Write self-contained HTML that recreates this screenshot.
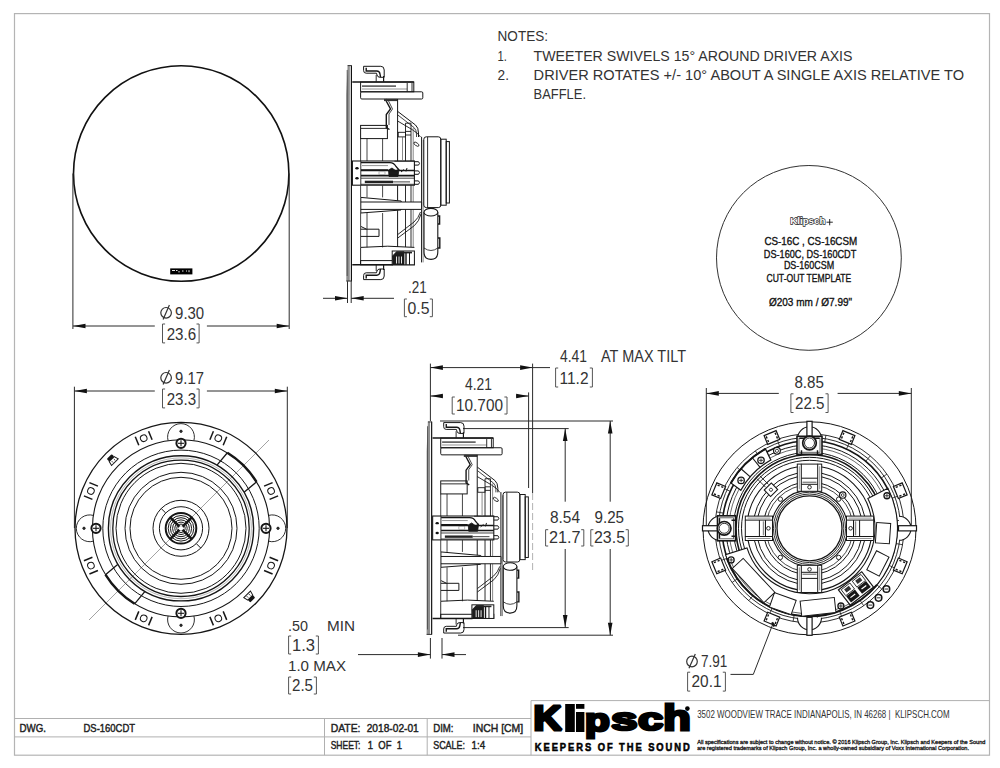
<!DOCTYPE html>
<html><head><meta charset="utf-8"><style>
html,body{margin:0;padding:0;background:#fff;width:1000px;height:768px;overflow:hidden}
svg{display:block}
</style></head><body>
<svg width="1000" height="768" viewBox="0 0 1000 768">
<rect width="1000" height="768" fill="#fff"/>
<rect x="14.5" y="13.6" width="975" height="741.6" fill="none" stroke="#b4b4b4" stroke-width="1.2"/>
<line x1="14.50" y1="718.50" x2="531.00" y2="718.50" stroke="#b0b0b0" stroke-width="1" />
<line x1="14.50" y1="736.90" x2="531.00" y2="736.90" stroke="#b0b0b0" stroke-width="1" />
<line x1="324.50" y1="718.50" x2="324.50" y2="755.20" stroke="#b0b0b0" stroke-width="1" />
<line x1="427.20" y1="718.50" x2="427.20" y2="755.20" stroke="#b0b0b0" stroke-width="1" />
<line x1="531.00" y1="700.60" x2="531.00" y2="755.20" stroke="#b0b0b0" stroke-width="1" />
<line x1="531.00" y1="700.60" x2="989.50" y2="700.60" stroke="#b0b0b0" stroke-width="1" />
<text x="19.5" y="732.2" textLength="26.5" lengthAdjust="spacingAndGlyphs" font-family="Liberation Sans" font-size="11.5" font-weight="normal" fill="#222" stroke="#222" stroke-width="0.45">DWG.</text>
<text x="83.5" y="732.2" textLength="51.5" lengthAdjust="spacingAndGlyphs" font-family="Liberation Sans" font-size="11.5" font-weight="normal" fill="#222" stroke="#222" stroke-width="0.45">DS-160CDT</text>
<text x="330.7" y="732.4" textLength="29.8" lengthAdjust="spacingAndGlyphs" font-family="Liberation Sans" font-size="11.5" font-weight="normal" fill="#222" stroke="#222" stroke-width="0.45">DATE:</text>
<text x="366.7" y="732.4" textLength="52.1" lengthAdjust="spacingAndGlyphs" font-family="Liberation Sans" font-size="11.5" font-weight="normal" fill="#222" stroke="#222" stroke-width="0.45">2018-02-01</text>
<text x="433.2" y="732.4" textLength="20.3" lengthAdjust="spacingAndGlyphs" font-family="Liberation Sans" font-size="11.5" font-weight="normal" fill="#222" stroke="#222" stroke-width="0.45">DIM:</text>
<text x="472.8" y="732.4" textLength="50.4" lengthAdjust="spacingAndGlyphs" font-family="Liberation Sans" font-size="11.5" font-weight="normal" fill="#222" stroke="#222" stroke-width="0.45">INCH [CM]</text>
<text x="330.7" y="749.2" textLength="29.8" lengthAdjust="spacingAndGlyphs" font-family="Liberation Sans" font-size="11.5" font-weight="normal" fill="#222" stroke="#222" stroke-width="0.45">SHEET:</text>
<text x="367.7" y="749.2" textLength="34.3" lengthAdjust="spacingAndGlyphs" font-family="Liberation Sans" font-size="11.5" font-weight="normal" fill="#222" stroke="#222" stroke-width="0.45">1 &#160;OF &#160;1</text>
<text x="433.2" y="749.2" textLength="31.8" lengthAdjust="spacingAndGlyphs" font-family="Liberation Sans" font-size="11.5" font-weight="normal" fill="#222" stroke="#222" stroke-width="0.45">SCALE:</text>
<text x="471.6" y="749.2" textLength="13.7" lengthAdjust="spacingAndGlyphs" font-family="Liberation Sans" font-size="11.5" font-weight="normal" fill="#222" stroke="#222" stroke-width="0.45">1:4</text>
<text transform="translate(533.48,730.40) scale(0.3916,0.3532)" x="0" y="0" font-family="Liberation Sans" font-size="100" font-weight="bold" fill="#000" stroke="#000" stroke-width="8.59" stroke-linejoin="miter" stroke-miterlimit="1.5">K</text>
<text transform="translate(584.93,730.93) scale(0.4048,0.3213)" x="0" y="0" font-family="Liberation Sans" font-size="100" font-weight="bold" fill="#000" stroke="#000" stroke-width="8.81" stroke-linejoin="miter" stroke-miterlimit="1.5">p</text>
<text transform="translate(611.12,730.49) scale(0.4771,0.3210)" x="0" y="0" font-family="Liberation Sans" font-size="100" font-weight="bold" fill="#000" stroke="#000" stroke-width="8.02" stroke-linejoin="miter" stroke-miterlimit="1.5">s</text>
<text transform="translate(638.11,730.49) scale(0.4572,0.3213)" x="0" y="0" font-family="Liberation Sans" font-size="100" font-weight="bold" fill="#000" stroke="#000" stroke-width="8.22" stroke-linejoin="miter" stroke-miterlimit="1.5">c</text>
<text transform="translate(663.35,730.40) scale(0.4509,0.3423)" x="0" y="0" font-family="Liberation Sans" font-size="100" font-weight="bold" fill="#000" stroke="#000" stroke-width="8.07" stroke-linejoin="miter" stroke-miterlimit="1.5">h</text>
<rect x="565.2" y="704" width="9.6" height="28" fill="#000"/>
<rect x="576" y="704" width="8.4" height="4.8" fill="#000"/>
<rect x="576" y="712" width="8.4" height="20" fill="#000"/>
<circle cx="687.4" cy="708.6" r="2.3" fill="#000"/>
<g transform="translate(534.8,750.8) scale(0.86,1)"><text x="0" y="0" textLength="180.2" lengthAdjust="spacing" font-family="Liberation Sans" font-size="10.9" font-weight="bold" fill="#000" stroke="#000" stroke-width="0.55">KEEPERS OF THE SOUND</text></g>
<text x="697.2" y="717.9" textLength="252.4" lengthAdjust="spacingAndGlyphs" font-family="Liberation Sans" font-size="11" font-weight="normal" fill="#333">3502 WOODVIEW TRACE INDIANAPOLIS, IN 46268 | &#160;KLIPSCH.COM</text>
<text x="697.2" y="743.8" textLength="288.2" lengthAdjust="spacingAndGlyphs" font-family="Liberation Sans" font-size="5.8" font-weight="normal" fill="#111" stroke="#111" stroke-width="0.3">All specifications are subject to change without notice. &#169; 2016 Klipsch Group, Inc. Klipsch and Keepers of the Sound</text>
<text x="697.2" y="750.0" textLength="271.8" lengthAdjust="spacingAndGlyphs" font-family="Liberation Sans" font-size="5.8" font-weight="normal" fill="#111" stroke="#111" stroke-width="0.3">are registered trademarks of Klipsch Group, Inc. a wholly-owned subsidiary of Voxx International Corporation.</text>
<text x="497.6" y="41.4" textLength="50.4" lengthAdjust="spacingAndGlyphs" font-family="Liberation Sans" font-size="15.5" font-weight="normal" fill="#333333">NOTES:</text>
<text x="497.6" y="61.0" textLength="9.4" lengthAdjust="spacingAndGlyphs" font-family="Liberation Sans" font-size="15.5" font-weight="normal" fill="#333333">1.</text>
<text x="533.6" y="61.0" textLength="318.9" lengthAdjust="spacingAndGlyphs" font-family="Liberation Sans" font-size="15.5" font-weight="normal" fill="#333333">TWEETER SWIVELS 15&#176; AROUND DRIVER AXIS</text>
<text x="497.6" y="80.0" textLength="11.4" lengthAdjust="spacingAndGlyphs" font-family="Liberation Sans" font-size="15.5" font-weight="normal" fill="#333333">2.</text>
<text x="533.6" y="80.0" textLength="430.4" lengthAdjust="spacingAndGlyphs" font-family="Liberation Sans" font-size="15.5" font-weight="normal" fill="#333333">DRIVER ROTATES +/- 10&#176; ABOUT A SINGLE AXIS RELATIVE TO</text>
<text x="533.6" y="98.6" textLength="52.4" lengthAdjust="spacingAndGlyphs" font-family="Liberation Sans" font-size="15.5" font-weight="normal" fill="#333333">BAFFLE.</text>
<circle cx="808.9" cy="257.9" r="92.4" fill="none" stroke="#333" stroke-width="1"/>
<text x="790.2" y="224.2" textLength="35.2" lengthAdjust="spacingAndGlyphs" font-family="Liberation Sans" font-size="9.8" font-weight="bold" fill="#fff" stroke="#2a2a2a" stroke-width="1.3" paint-order="stroke">Klipsch</text>
<path d="M826.5,222.2 H832.8 M829.7,219 V225.3" stroke="#111" stroke-width="0.9"/>
<text x="764.4" y="244.8" textLength="92.8" lengthAdjust="spacingAndGlyphs" font-family="Liberation Sans" font-size="11.2" font-weight="normal" fill="#111" stroke="#111" stroke-width="0.35">CS-16C , CS-16CSM</text>
<text x="763.8" y="258.3" textLength="92.5" lengthAdjust="spacingAndGlyphs" font-family="Liberation Sans" font-size="11.2" font-weight="normal" fill="#111" stroke="#111" stroke-width="0.35">DS-160C, DS-160CDT</text>
<text x="783.9" y="269.4" textLength="50.3" lengthAdjust="spacingAndGlyphs" font-family="Liberation Sans" font-size="11.2" font-weight="normal" fill="#111" stroke="#111" stroke-width="0.35">DS-160CSM</text>
<text x="766.5" y="282.3" textLength="84.7" lengthAdjust="spacingAndGlyphs" font-family="Liberation Sans" font-size="11.2" font-weight="normal" fill="#111" stroke="#111" stroke-width="0.35">CUT-OUT TEMPLATE</text>
<text x="768.9" y="306.2" textLength="83.2" lengthAdjust="spacingAndGlyphs" font-family="Liberation Sans" font-size="11.2" font-weight="normal" fill="#111" stroke="#111" stroke-width="0.35">&#216;203 mm / &#216;7.99"</text>
<circle cx="181.2" cy="173.5" r="107.7" fill="none" stroke="#111" stroke-width="1.6"/>
<rect x="170.2" y="268.4" width="22.2" height="6" fill="#000"/>
<path d="M172,270.5 h3 M176,270.5 h1.5 M179,271 v1.5 M182,271 h1.5 M186,271 h1 M189,270.2 v2" stroke="#fff" stroke-width="0.9"/>
<line x1="72.90" y1="173.50" x2="72.90" y2="329.00" stroke="#2b2b2b" stroke-width="1" />
<line x1="289.20" y1="173.50" x2="289.20" y2="329.00" stroke="#2b2b2b" stroke-width="1" />
<line x1="73.00" y1="326.00" x2="154.80" y2="326.00" stroke="#2b2b2b" stroke-width="1" />
<line x1="206.90" y1="326.00" x2="289.00" y2="326.00" stroke="#2b2b2b" stroke-width="1" />
<path d="M73.00,326.00 L85.50,323.70 L85.50,328.30 Z" fill="#111"/>
<path d="M289.20,326.00 L276.70,328.30 L276.70,323.70 Z" fill="#111"/>
<circle cx="166.1" cy="312.8" r="5.3" fill="none" stroke="#333333" stroke-width="1.2"/>
<line x1="163.1" y1="319.6" x2="169.4" y2="305.1" stroke="#333333" stroke-width="1.2"/>
<text x="175.1" y="318.6" textLength="29.1" lengthAdjust="spacingAndGlyphs" font-family="Liberation Sans" font-size="16.5" font-weight="normal" fill="#333333">9.30</text>
<path d="M165.1,324.0 H162.5 V342.9 H165.1 M196.5,324.0 H199.1 V342.9 H196.5" fill="none" stroke="#555" stroke-width="1"/>
<text x="166.7" y="339.9" textLength="29.4" lengthAdjust="spacingAndGlyphs" font-family="Liberation Sans" font-size="16" font-weight="normal" fill="#333333">23.6</text>
<line x1="74.40" y1="386.70" x2="74.40" y2="528.00" stroke="#2b2b2b" stroke-width="1" />
<line x1="287.30" y1="386.70" x2="287.30" y2="528.00" stroke="#2b2b2b" stroke-width="1" />
<line x1="74.40" y1="391.00" x2="154.80" y2="391.00" stroke="#2b2b2b" stroke-width="1" />
<line x1="206.90" y1="391.00" x2="287.30" y2="391.00" stroke="#2b2b2b" stroke-width="1" />
<path d="M74.40,391.00 L86.90,388.70 L86.90,393.30 Z" fill="#111"/>
<path d="M287.30,391.00 L274.80,393.30 L274.80,388.70 Z" fill="#111"/>
<circle cx="166.1" cy="377.8" r="5.3" fill="none" stroke="#333333" stroke-width="1.2"/>
<line x1="163.1" y1="384.6" x2="169.4" y2="370.1" stroke="#333333" stroke-width="1.2"/>
<text x="175.1" y="383.6" textLength="28.9" lengthAdjust="spacingAndGlyphs" font-family="Liberation Sans" font-size="16.5" font-weight="normal" fill="#333333">9.17</text>
<path d="M165.1,389.0 H162.5 V407.9 H165.1 M196.5,389.0 H199.1 V407.9 H196.5" fill="none" stroke="#555" stroke-width="1"/>
<text x="166.7" y="404.9" textLength="29.4" lengthAdjust="spacingAndGlyphs" font-family="Liberation Sans" font-size="16" font-weight="normal" fill="#333333">23.3</text>
<line x1="347.50" y1="281.00" x2="347.50" y2="303.00" stroke="#2b2b2b" stroke-width="1" />
<line x1="351.20" y1="281.00" x2="351.20" y2="303.00" stroke="#2b2b2b" stroke-width="1" />
<line x1="323.00" y1="298.30" x2="347.50" y2="298.30" stroke="#2b2b2b" stroke-width="1" />
<path d="M347.50,298.30 L335.00,300.60 L335.00,296.00 Z" fill="#111"/>
<line x1="351.20" y1="298.30" x2="394.00" y2="298.30" stroke="#2b2b2b" stroke-width="1" />
<path d="M351.20,298.30 L363.70,296.00 L363.70,300.60 Z" fill="#111"/>
<text x="408.0" y="292.7" textLength="18.7" lengthAdjust="spacingAndGlyphs" font-family="Liberation Sans" font-size="16" font-weight="normal" fill="#333333">.21</text>
<path d="M406.9,299.0 H404.4 V316.7 H406.9 M429.8,299.0 H432.4 V316.7 H429.8" fill="none" stroke="#555" stroke-width="1"/>
<text x="407.5" y="313.5" textLength="22.0" lengthAdjust="spacingAndGlyphs" font-family="Liberation Sans" font-size="16" font-weight="normal" fill="#333333">0.5</text>
<line x1="430.40" y1="363.60" x2="430.40" y2="421.00" stroke="#2b2b2b" stroke-width="1" />
<line x1="532.60" y1="363.60" x2="532.60" y2="493.00" stroke="#2b2b2b" stroke-width="1" />
<line x1="532.60" y1="493.00" x2="532.60" y2="570.00" stroke="#aaa" stroke-width="0.9" stroke-dasharray="7,3"/>
<line x1="430.40" y1="367.60" x2="550.00" y2="367.60" stroke="#2b2b2b" stroke-width="1" />
<path d="M430.40,367.60 L442.90,365.30 L442.90,369.90 Z" fill="#111"/>
<path d="M532.60,367.60 L520.10,369.90 L520.10,365.30 Z" fill="#111"/>
<text x="560.0" y="362.0" textLength="27.0" lengthAdjust="spacingAndGlyphs" font-family="Liberation Sans" font-size="16" font-weight="normal" fill="#333333">4.41</text>
<text x="601.0" y="362.0" textLength="85.0" lengthAdjust="spacingAndGlyphs" font-family="Liberation Sans" font-size="16" font-weight="normal" fill="#333333">AT MAX TILT</text>
<path d="M558.2,368.0 H555.6 V387.0 H558.2 M589.8,368.0 H592.4 V387.0 H589.8" fill="none" stroke="#555" stroke-width="1"/>
<text x="559.5" y="384.0" textLength="29.0" lengthAdjust="spacingAndGlyphs" font-family="Liberation Sans" font-size="16" font-weight="normal" fill="#333333">11.2</text>
<line x1="528.60" y1="392.40" x2="528.60" y2="488.00" stroke="#2b2b2b" stroke-width="1" />
<line x1="430.40" y1="396.00" x2="443.00" y2="396.00" stroke="#2b2b2b" stroke-width="1" />
<path d="M430.40,396.00 L442.90,393.70 L442.90,398.30 Z" fill="#111"/>
<line x1="516.00" y1="396.00" x2="528.60" y2="396.00" stroke="#2b2b2b" stroke-width="1" />
<path d="M528.60,396.00 L516.10,398.30 L516.10,393.70 Z" fill="#111"/>
<text x="465.0" y="390.4" textLength="27.0" lengthAdjust="spacingAndGlyphs" font-family="Liberation Sans" font-size="16" font-weight="normal" fill="#333333">4.21</text>
<path d="M454.8,397.0 H452.2 V414.0 H454.8 M504.4,397.0 H507.0 V414.0 H504.4" fill="none" stroke="#555" stroke-width="1"/>
<text x="456.0" y="411.0" textLength="47.0" lengthAdjust="spacingAndGlyphs" font-family="Liberation Sans" font-size="16" font-weight="normal" fill="#333333">10.700</text>
<line x1="440.00" y1="421.00" x2="613.00" y2="421.00" stroke="#2b2b2b" stroke-width="1" />
<line x1="463.00" y1="428.60" x2="568.70" y2="428.60" stroke="#2b2b2b" stroke-width="1" />
<line x1="463.00" y1="627.60" x2="568.70" y2="627.60" stroke="#2b2b2b" stroke-width="1" />
<line x1="458.00" y1="635.20" x2="613.00" y2="635.20" stroke="#2b2b2b" stroke-width="1" />
<line x1="565.20" y1="428.60" x2="565.20" y2="501.70" stroke="#2b2b2b" stroke-width="1" />
<line x1="565.20" y1="549.00" x2="565.20" y2="627.60" stroke="#2b2b2b" stroke-width="1" />
<path d="M565.20,428.60 L567.50,441.10 L562.90,441.10 Z" fill="#111"/>
<path d="M565.20,627.60 L562.90,615.10 L567.50,615.10 Z" fill="#111"/>
<line x1="610.20" y1="421.00" x2="610.20" y2="501.70" stroke="#2b2b2b" stroke-width="1" />
<line x1="610.20" y1="549.00" x2="610.20" y2="635.20" stroke="#2b2b2b" stroke-width="1" />
<path d="M610.20,421.00 L612.50,433.50 L607.90,433.50 Z" fill="#111"/>
<path d="M610.20,635.20 L607.90,622.70 L612.50,622.70 Z" fill="#111"/>
<text x="550.0" y="522.6" textLength="30.0" lengthAdjust="spacingAndGlyphs" font-family="Liberation Sans" font-size="16" font-weight="normal" fill="#333333">8.54</text>
<path d="M548.2,529.7 H545.6 V546.0 H548.2 M581.2,529.7 H583.8 V546.0 H581.2" fill="none" stroke="#555" stroke-width="1"/>
<text x="549.0" y="543.0" textLength="31.5" lengthAdjust="spacingAndGlyphs" font-family="Liberation Sans" font-size="16" font-weight="normal" fill="#333333">21.7</text>
<text x="594.5" y="522.6" textLength="29.5" lengthAdjust="spacingAndGlyphs" font-family="Liberation Sans" font-size="16" font-weight="normal" fill="#333333">9.25</text>
<path d="M593.4,529.7 H590.8 V546.0 H593.4 M625.7,529.7 H628.3 V546.0 H625.7" fill="none" stroke="#555" stroke-width="1"/>
<text x="594.0" y="543.0" textLength="31.0" lengthAdjust="spacingAndGlyphs" font-family="Liberation Sans" font-size="16" font-weight="normal" fill="#333333">23.5</text>
<line x1="430.40" y1="638.00" x2="430.40" y2="658.60" stroke="#2b2b2b" stroke-width="1" />
<line x1="442.00" y1="638.00" x2="442.00" y2="658.60" stroke="#2b2b2b" stroke-width="1" />
<line x1="358.00" y1="654.60" x2="430.40" y2="654.60" stroke="#2b2b2b" stroke-width="1" />
<path d="M430.40,654.60 L417.90,656.90 L417.90,652.30 Z" fill="#111"/>
<line x1="442.00" y1="654.60" x2="466.00" y2="654.60" stroke="#2b2b2b" stroke-width="1" />
<path d="M442.00,654.60 L454.50,652.30 L454.50,656.90 Z" fill="#111"/>
<text x="288.0" y="630.6" textLength="20.0" lengthAdjust="spacingAndGlyphs" font-family="Liberation Sans" font-size="15.5" font-weight="normal" fill="#333333">.50</text>
<text x="327.0" y="630.6" textLength="28.0" lengthAdjust="spacingAndGlyphs" font-family="Liberation Sans" font-size="15.5" font-weight="normal" fill="#333333">MIN</text>
<path d="M291.2,636.0 H288.6 V654.0 H291.2 M315.8,636.0 H318.4 V654.0 H315.8" fill="none" stroke="#555" stroke-width="1"/>
<text x="292.0" y="650.6" textLength="23.0" lengthAdjust="spacingAndGlyphs" font-family="Liberation Sans" font-size="16" font-weight="normal" fill="#333333">1.3</text>
<text x="288.0" y="671.4" textLength="58.0" lengthAdjust="spacingAndGlyphs" font-family="Liberation Sans" font-size="15.5" font-weight="normal" fill="#333333">1.0 MAX</text>
<path d="M291.2,677.0 H288.6 V694.0 H291.2 M313.8,677.0 H316.4 V694.0 H313.8" fill="none" stroke="#555" stroke-width="1"/>
<text x="292.0" y="691.0" textLength="21.0" lengthAdjust="spacingAndGlyphs" font-family="Liberation Sans" font-size="16" font-weight="normal" fill="#333333">2.5</text>
<line x1="706.30" y1="388.00" x2="706.30" y2="528.00" stroke="#2b2b2b" stroke-width="1" />
<line x1="911.30" y1="388.00" x2="911.30" y2="528.00" stroke="#2b2b2b" stroke-width="1" />
<line x1="706.30" y1="393.40" x2="778.80" y2="393.40" stroke="#2b2b2b" stroke-width="1" />
<line x1="837.60" y1="393.40" x2="911.30" y2="393.40" stroke="#2b2b2b" stroke-width="1" />
<path d="M706.30,393.40 L718.80,391.10 L718.80,395.70 Z" fill="#111"/>
<path d="M911.30,393.40 L898.80,395.70 L898.80,391.10 Z" fill="#111"/>
<text x="794.4" y="387.9" textLength="29.5" lengthAdjust="spacingAndGlyphs" font-family="Liberation Sans" font-size="16" font-weight="normal" fill="#333333">8.85</text>
<path d="M793.5,393.8 H790.9 V412.5 H793.5 M825.5,393.8 H828.1 V412.5 H825.5" fill="none" stroke="#555" stroke-width="1"/>
<text x="795.0" y="409.0" textLength="29.5" lengthAdjust="spacingAndGlyphs" font-family="Liberation Sans" font-size="16" font-weight="normal" fill="#333333">22.5</text>
<circle cx="692.0" cy="661.5" r="5.3" fill="none" stroke="#333333" stroke-width="1.2"/>
<line x1="689.0" y1="668.3" x2="695.3" y2="653.9" stroke="#333333" stroke-width="1.2"/>
<text x="701.0" y="666.6" textLength="26.3" lengthAdjust="spacingAndGlyphs" font-family="Liberation Sans" font-size="16" font-weight="normal" fill="#333333">7.91</text>
<path d="M690.2,672.2 H687.6 V691.1 H690.2 M722.8,672.2 H725.4 V691.1 H722.8" fill="none" stroke="#555" stroke-width="1"/>
<text x="691.5" y="687.0" textLength="30.0" lengthAdjust="spacingAndGlyphs" font-family="Liberation Sans" font-size="16" font-weight="normal" fill="#333333">20.1</text>
<path d="M730.5,674.4 H753.3 L772.8,624.1" fill="none" stroke="#2b2b2b" stroke-width="1"/>
<g id="side">
<path d="M347.6,65.5 H349.8 V281.2 H346.3 V95 Z" fill="#8e8e8e" stroke="none" stroke-width="0" />
<line x1="351.40" y1="65.50" x2="351.40" y2="281.20" stroke="#111" stroke-width="1.2"/>
<line x1="347.60" y1="65.60" x2="351.80" y2="65.60" stroke="#333" stroke-width="1.0"/>
<line x1="346.30" y1="281.00" x2="351.80" y2="281.00" stroke="#333" stroke-width="1.0"/>
<line x1="347.20" y1="70.00" x2="347.20" y2="276.00" stroke="#444" stroke-width="0.8"/>
<path d="M363.6,66.3 H380.8 Q384.2,66.3 384.2,70 V77.3 H380 Q377.5,77.3 377,75 L376.5,73.2 H366.2 Q363.6,73.2 363.6,70.5 Z" fill="none" stroke="#161616" stroke-width="1.0" />
<path d="M366.2,67.8 V71 H376.8 Q379.5,71 380,74 L380.5,77" fill="none" stroke="#161616" stroke-width="1.4" />
<line x1="376.20" y1="75.00" x2="376.20" y2="81.80" stroke="#161616" stroke-width="0.9"/>
<line x1="383.60" y1="76.00" x2="383.60" y2="81.80" stroke="#161616" stroke-width="1.2"/>
<line x1="352.30" y1="82.00" x2="413.80" y2="82.00" stroke="#161616" stroke-width="1.5"/>
<rect x="360.60" y="82.00" width="53.20" height="9.80" rx="0" fill="none" stroke="#161616" stroke-width="1.0"/>
<line x1="362.00" y1="86.20" x2="396.00" y2="86.20" stroke="#666" stroke-width="1.8"/>
<line x1="362.00" y1="89.00" x2="407.00" y2="89.00" stroke="#777" stroke-width="0.8"/>
<line x1="407.20" y1="83.00" x2="407.20" y2="91.80" stroke="#161616" stroke-width="0.9"/>
<line x1="412.00" y1="83.00" x2="412.00" y2="91.80" stroke="#161616" stroke-width="0.9"/>
<rect x="360.60" y="91.80" width="62.20" height="7.20" rx="1.2" fill="none" stroke="#161616" stroke-width="1.0"/>
<path d="M385.8,99 L386.5,101.5 L390.5,109 L386.3,114.5 V127.5 L389.5,129.5" fill="none" stroke="#161616" stroke-width="1.4" />
<path d="M388.3,100.5 L392.5,109 L389,114 V125" fill="none" stroke="#161616" stroke-width="0.8" />
<line x1="384.00" y1="100.00" x2="397.60" y2="100.00" stroke="#333" stroke-width="2.2"/>
<line x1="397.60" y1="99.00" x2="397.60" y2="247.00" stroke="#161616" stroke-width="1.0"/>
<path d="M397.8,111.5 L415.5,125 Q418.5,127.5 418.5,133 V137" fill="none" stroke="#161616" stroke-width="1.0" />
<path d="M397.8,115 L414,127.5 Q416.5,130 416.5,134 V137" fill="none" stroke="#161616" stroke-width="0.8" />
<path d="M397.6,121 L412,129.5 Q418,133 420.5,137" fill="none" stroke="#161616" stroke-width="0.9" />
<line x1="405.50" y1="123.20" x2="405.50" y2="247.00" stroke="#161616" stroke-width="0.9"/>
<line x1="411.00" y1="123.20" x2="411.00" y2="247.00" stroke="#161616" stroke-width="0.9"/>
<line x1="413.20" y1="128.00" x2="413.20" y2="247.00" stroke="#555" stroke-width="0.7"/>
<line x1="405.50" y1="123.20" x2="411.00" y2="123.20" stroke="#161616" stroke-width="0.9"/>
<line x1="405.50" y1="131.40" x2="411.00" y2="131.40" stroke="#161616" stroke-width="0.9"/>
<line x1="405.50" y1="135.00" x2="411.00" y2="135.00" stroke="#161616" stroke-width="0.9"/>
<rect x="398.20" y="132.30" width="7.30" height="4.60" rx="0" fill="none" stroke="#161616" stroke-width="0.9"/>
<line x1="402.50" y1="137.00" x2="402.50" y2="160.00" stroke="#555" stroke-width="0.7"/>
<ellipse cx="416.4" cy="144.2" rx="3" ry="1.4" transform="rotate(35 416.4 144.2)" fill="none" stroke="#161616" stroke-width="0.8"/>
<rect x="360.60" y="125.40" width="26.80" height="13.20" rx="0" fill="none" stroke="#161616" stroke-width="1.0"/>
<line x1="361.00" y1="128.40" x2="387.00" y2="128.40" stroke="#161616" stroke-width="0.9"/>
<line x1="360.60" y1="138.60" x2="360.60" y2="161.40" stroke="#161616" stroke-width="0.8"/>
<line x1="360.60" y1="185.40" x2="360.60" y2="197.40" stroke="#161616" stroke-width="0.8"/>
<line x1="360.60" y1="213.00" x2="360.60" y2="247.40" stroke="#161616" stroke-width="0.8"/>
<line x1="367.00" y1="138.60" x2="367.00" y2="161.40" stroke="#161616" stroke-width="0.8"/>
<line x1="367.00" y1="185.40" x2="367.00" y2="197.40" stroke="#161616" stroke-width="0.8"/>
<line x1="367.00" y1="213.00" x2="367.00" y2="247.40" stroke="#161616" stroke-width="0.8"/>
<line x1="382.60" y1="138.60" x2="382.60" y2="161.40" stroke="#161616" stroke-width="0.8"/>
<line x1="382.60" y1="185.40" x2="382.60" y2="197.40" stroke="#161616" stroke-width="0.8"/>
<line x1="382.60" y1="213.00" x2="382.60" y2="247.40" stroke="#161616" stroke-width="0.8"/>
<rect x="352.40" y="161.00" width="62.00" height="24.20" rx="0" fill="#fff" stroke="#161616" stroke-width="1.1"/>
<line x1="360.80" y1="161.00" x2="360.80" y2="185.20" stroke="#161616" stroke-width="0.9"/>
<path d="M361,162.6 H390 Q394,162.6 396,166.5 L399,170 M361,169.8 H388" fill="none" stroke="#161616" stroke-width="1.3" />
<line x1="362.00" y1="165.60" x2="388.00" y2="165.60" stroke="#777" stroke-width="0.8"/>
<line x1="394.40" y1="161.20" x2="414.40" y2="161.20" stroke="#161616" stroke-width="0.8"/>
<path d="M388.5,170 L392,168 L396,171 L399,169 L398,176.5 H389 Z" fill="#1a1a1a" stroke="#161616" stroke-width="0.8" />
<path d="M401,172 L404,169.5 M406,171.5 L407,168" fill="none" stroke="#161616" stroke-width="1.0" />
<line x1="361.00" y1="170.60" x2="414.40" y2="170.60" stroke="#161616" stroke-width="1.5"/>
<line x1="361.00" y1="175.60" x2="414.40" y2="175.60" stroke="#161616" stroke-width="1.6"/>
<rect x="379.00" y="171.80" width="6.00" height="2.60" rx="0" fill="#fff" stroke="#888" stroke-width="0.6"/>
<line x1="361.00" y1="178.20" x2="414.40" y2="178.20" stroke="#161616" stroke-width="0.8"/>
<line x1="364.80" y1="181.90" x2="393.00" y2="181.90" stroke="#222" stroke-width="2.4"/>
<line x1="393.00" y1="181.90" x2="410.00" y2="181.90" stroke="#161616" stroke-width="0.8"/>
<line x1="361.00" y1="184.30" x2="414.40" y2="184.30" stroke="#161616" stroke-width="0.8"/>
<ellipse cx="357" cy="168.2" rx="1.7" ry="1.2" fill="#111"/>
<ellipse cx="357" cy="178.2" rx="1.7" ry="1.2" fill="#111"/>
<path d="M414.4,161.7 H418.5 Q420.5,163.4 418.5,165.1 H414.4" fill="none" stroke="#161616" stroke-width="1.0" />
<path d="M414.4,170.9 H418.5 Q420.5,172.6 418.5,174.3 H414.4" fill="none" stroke="#161616" stroke-width="1.0" />
<path d="M414.4,180.9 H418.5 Q420.5,182.6 418.5,184.3 H414.4" fill="none" stroke="#161616" stroke-width="1.0" />
<line x1="421.60" y1="136.80" x2="421.60" y2="262.40" stroke="#161616" stroke-width="1.0"/>
<line x1="423.20" y1="140.00" x2="423.20" y2="262.40" stroke="#777" stroke-width="0.8"/>
<rect x="423.80" y="136.80" width="17.00" height="70.80" rx="2.5" fill="none" stroke="#161616" stroke-width="1.0"/>
<line x1="427.60" y1="137.00" x2="427.60" y2="207.40" stroke="#161616" stroke-width="0.9"/>
<rect x="440.80" y="139.20" width="5.40" height="66.00" rx="0" fill="none" stroke="#161616" stroke-width="1.0"/>
<rect x="446.20" y="141.60" width="3.20" height="61.40" rx="0" fill="none" stroke="#161616" stroke-width="1.0"/>
<path d="M360.8,197.4 L401.2,201 V202 H421.6 V209.4 H401 V210 L360.8,213 Z" fill="#fff" stroke="#161616" stroke-width="1.0" />
<line x1="360.80" y1="202.00" x2="401.20" y2="202.00" stroke="#161616" stroke-width="1.0"/>
<line x1="360.80" y1="209.40" x2="401.00" y2="209.40" stroke="#161616" stroke-width="1.0"/>
<path d="M424,212.2 V252 Q424,259.4 431,259.4 Q437.8,259.4 437.8,252 V212.2" fill="#fff" stroke="#161616" stroke-width="1.1" />
<ellipse cx="430.9" cy="212.2" rx="6.9" ry="3.8" fill="#fff" stroke="#161616" stroke-width="1.1"/>
<path d="M424,248 Q431,253 437.8,248" fill="none" stroke="#161616" stroke-width="0.8" />
<path d="M438,216 H439.6 V224 H438 M438,238 H439.8 V248 H438" fill="none" stroke="#161616" stroke-width="1.4" />
<path d="M360.8,229.2 H379 V236.4 H360.8 M361,226.5 L366.5,229.2" fill="none" stroke="#161616" stroke-width="1.0" />
<path d="M397.8,234.5 L414,222 Q418.5,218 420.5,212 M397.8,238 L414.5,225.5 Q419,221.5 421,214" fill="none" stroke="#161616" stroke-width="0.9" />
<path d="M360.8,247.4 Q388,245 414.4,247.4" fill="none" stroke="#161616" stroke-width="1.0" />
<line x1="360.60" y1="247.40" x2="360.60" y2="264.80" stroke="#161616" stroke-width="0.9"/>
<rect x="360.60" y="260.60" width="53.80" height="4.20" rx="0" fill="none" stroke="#161616" stroke-width="1.0"/>
<rect x="392.20" y="251.00" width="22.20" height="13.80" rx="0" fill="#fff" stroke="#161616" stroke-width="1.0"/>
<path d="M392.5,256 L396.5,251.8 H404 V264.5 H393 Z" fill="#1c1c1c" stroke="#161616" stroke-width="0.8" />
<line x1="396.50" y1="256.50" x2="396.50" y2="263.50" stroke="#fff" stroke-width="0.9"/>
<line x1="399.00" y1="256.50" x2="399.00" y2="263.50" stroke="#fff" stroke-width="0.9"/>
<line x1="401.50" y1="256.50" x2="401.50" y2="263.50" stroke="#fff" stroke-width="0.9"/>
<line x1="396.00" y1="252.60" x2="412.00" y2="252.60" stroke="#222" stroke-width="1.6"/>
<line x1="406.00" y1="253.00" x2="406.00" y2="264.80" stroke="#161616" stroke-width="1.4"/>
<line x1="409.50" y1="253.00" x2="409.50" y2="264.80" stroke="#161616" stroke-width="1.0"/>
<line x1="352.30" y1="264.80" x2="392.80" y2="264.80" stroke="#161616" stroke-width="1.5"/>
<path d="M363.6,279.6 H380.8 Q384.2,279.6 384.2,276 V269 H380 Q377.5,269 377,271 L376.5,272.8 H366.2 Q363.6,272.8 363.6,275.5 Z" fill="none" stroke="#161616" stroke-width="1.0" />
<path d="M366.2,278.4 V275.2 H376.8 Q379.5,275.2 380,272 L380.5,269" fill="none" stroke="#161616" stroke-width="1.4" />
<line x1="376.20" y1="264.80" x2="376.20" y2="271.00" stroke="#161616" stroke-width="0.9"/>
<line x1="383.60" y1="264.80" x2="383.60" y2="270.00" stroke="#161616" stroke-width="1.2"/>
</g>
<use href="#side" transform="translate(84.96,357.18) scale(0.9866)"/>
<line x1="89.00" y1="620.00" x2="269.00" y2="440.00" stroke="#8c8c8c" stroke-width="0.8"/>
<circle cx="181.00" cy="528.30" r="106.00" fill="none" stroke="#161616" stroke-width="1.3"/>
<circle cx="181.00" cy="528.30" r="88.60" fill="none" stroke="#161616" stroke-width="1.1"/>
<circle cx="181.00" cy="528.30" r="78.20" fill="none" stroke="#161616" stroke-width="1.0"/>
<circle cx="181.00" cy="528.30" r="72.60" fill="none" stroke="#161616" stroke-width="1.4"/>
<circle cx="181.00" cy="528.30" r="70.40" fill="none" stroke="#999" stroke-width="0.7"/>
<circle cx="181.00" cy="528.30" r="68.20" fill="none" stroke="#161616" stroke-width="1.3"/>
<circle cx="181.00" cy="528.30" r="65.00" fill="none" stroke="#161616" stroke-width="1.0"/>
<circle cx="181.00" cy="528.30" r="56.00" fill="none" stroke="#161616" stroke-width="1.0"/>
<circle cx="181.00" cy="528.30" r="51.00" fill="none" stroke="#161616" stroke-width="1.0"/>
<circle cx="181.00" cy="528.30" r="28.00" fill="none" stroke="#161616" stroke-width="1.0"/>
<circle cx="181.00" cy="528.30" r="21.60" fill="none" stroke="#161616" stroke-width="1.0"/>
<circle cx="181.00" cy="528.30" r="15.30" fill="none" stroke="#161616" stroke-width="2.0"/>
<circle cx="181.00" cy="528.30" r="12.80" fill="none" stroke="#161616" stroke-width="1.0"/>
<circle cx="181.00" cy="528.30" r="10.60" fill="none" stroke="#161616" stroke-width="1.0"/>
<circle cx="181.00" cy="528.30" r="8.40" fill="none" stroke="#161616" stroke-width="1.0"/>
<circle cx="181.00" cy="528.30" r="6.20" fill="none" stroke="#161616" stroke-width="1.0"/>
<circle cx="181.00" cy="528.30" r="4.20" fill="none" stroke="#161616" stroke-width="1.0"/>
<line x1="170.40" y1="517.70" x2="191.60" y2="538.90" stroke="#161616" stroke-width="2.6"/>
<line x1="170.40" y1="538.90" x2="191.60" y2="517.70" stroke="#161616" stroke-width="2.6"/>
<circle cx="181.00" cy="528.30" r="2.20" fill="#fff" stroke="#161616" stroke-width="0"/>
<line x1="165.73" y1="513.03" x2="161.20" y2="508.50" stroke="#161616" stroke-width="1.0"/>
<line x1="196.27" y1="543.57" x2="200.80" y2="548.10" stroke="#161616" stroke-width="1.0"/>
<path transform="translate(181.0,528.3) rotate(-90)" d="M87.66,-12.9 A13.4,13.4 0 1 1 87.66,12.9" fill="none" stroke="#161616" stroke-width="0.9"/>
<circle cx="181.00" cy="431.30" r="1.20" fill="#333" stroke="#161616" stroke-width="0.8"/>
<circle cx="181.00" cy="443.30" r="4.60" fill="#fff" stroke="#161616" stroke-width="2.0"/>
<line x1="178.00" y1="443.30" x2="184.00" y2="443.30" stroke="#161616" stroke-width="1.1"/>
<line x1="181.00" y1="440.30" x2="181.00" y2="446.30" stroke="#161616" stroke-width="1.1"/>
<path transform="translate(181.0,528.3) rotate(0)" d="M87.66,-12.9 A13.4,13.4 0 1 1 87.66,12.9" fill="none" stroke="#161616" stroke-width="0.9"/>
<circle cx="278.00" cy="528.30" r="1.20" fill="#333" stroke="#161616" stroke-width="0.8"/>
<circle cx="266.00" cy="528.30" r="4.60" fill="#fff" stroke="#161616" stroke-width="2.0"/>
<line x1="263.00" y1="528.30" x2="269.00" y2="528.30" stroke="#161616" stroke-width="1.1"/>
<line x1="266.00" y1="525.30" x2="266.00" y2="531.30" stroke="#161616" stroke-width="1.1"/>
<path transform="translate(181.0,528.3) rotate(-270)" d="M87.66,-12.9 A13.4,13.4 0 1 1 87.66,12.9" fill="none" stroke="#161616" stroke-width="0.9"/>
<circle cx="181.00" cy="625.30" r="1.20" fill="#333" stroke="#161616" stroke-width="0.8"/>
<circle cx="181.00" cy="613.30" r="4.60" fill="#fff" stroke="#161616" stroke-width="2.0"/>
<line x1="178.00" y1="613.30" x2="184.00" y2="613.30" stroke="#161616" stroke-width="1.1"/>
<line x1="181.00" y1="610.30" x2="181.00" y2="616.30" stroke="#161616" stroke-width="1.1"/>
<path transform="translate(181.0,528.3) rotate(-180)" d="M87.66,-12.9 A13.4,13.4 0 1 1 87.66,12.9" fill="none" stroke="#161616" stroke-width="0.9"/>
<circle cx="84.00" cy="528.30" r="1.20" fill="#333" stroke="#161616" stroke-width="0.8"/>
<circle cx="96.00" cy="528.30" r="4.60" fill="#fff" stroke="#161616" stroke-width="2.0"/>
<line x1="93.00" y1="528.30" x2="99.00" y2="528.30" stroke="#161616" stroke-width="1.1"/>
<line x1="96.00" y1="525.30" x2="96.00" y2="531.30" stroke="#161616" stroke-width="1.1"/>
<g transform="translate(271.08,490.99) rotate(67.5)"><line x1="-7.2" y1="-4.6" x2="-7.2" y2="4.6" stroke="#161616" stroke-width="1.5"/><line x1="7.2" y1="-4.6" x2="7.2" y2="4.6" stroke="#161616" stroke-width="1.5"/><circle cx="0" cy="0" r="3.3" fill="none" stroke="#161616" stroke-width="1.0"/></g>
<g transform="translate(218.31,438.22) rotate(22.5)"><line x1="-7.2" y1="-4.6" x2="-7.2" y2="4.6" stroke="#161616" stroke-width="1.5"/><line x1="7.2" y1="-4.6" x2="7.2" y2="4.6" stroke="#161616" stroke-width="1.5"/><circle cx="0" cy="0" r="3.3" fill="none" stroke="#161616" stroke-width="1.0"/></g>
<g transform="translate(143.69,438.22) rotate(-22.5)"><line x1="-7.2" y1="-4.6" x2="-7.2" y2="4.6" stroke="#161616" stroke-width="1.5"/><line x1="7.2" y1="-4.6" x2="7.2" y2="4.6" stroke="#161616" stroke-width="1.5"/><circle cx="0" cy="0" r="3.3" fill="none" stroke="#161616" stroke-width="1.0"/></g>
<g transform="translate(90.92,490.99) rotate(-67.5)"><line x1="-7.2" y1="-4.6" x2="-7.2" y2="4.6" stroke="#161616" stroke-width="1.5"/><line x1="7.2" y1="-4.6" x2="7.2" y2="4.6" stroke="#161616" stroke-width="1.5"/><circle cx="0" cy="0" r="3.3" fill="none" stroke="#161616" stroke-width="1.0"/></g>
<g transform="translate(90.92,565.61) rotate(-112.5)"><line x1="-7.2" y1="-4.6" x2="-7.2" y2="4.6" stroke="#161616" stroke-width="1.5"/><line x1="7.2" y1="-4.6" x2="7.2" y2="4.6" stroke="#161616" stroke-width="1.5"/><circle cx="0" cy="0" r="3.3" fill="none" stroke="#161616" stroke-width="1.0"/></g>
<g transform="translate(143.69,618.38) rotate(-157.5)"><line x1="-7.2" y1="-4.6" x2="-7.2" y2="4.6" stroke="#161616" stroke-width="1.5"/><line x1="7.2" y1="-4.6" x2="7.2" y2="4.6" stroke="#161616" stroke-width="1.5"/><circle cx="0" cy="0" r="3.3" fill="none" stroke="#161616" stroke-width="1.0"/></g>
<g transform="translate(218.31,618.38) rotate(-202.5)"><line x1="-7.2" y1="-4.6" x2="-7.2" y2="4.6" stroke="#161616" stroke-width="1.5"/><line x1="7.2" y1="-4.6" x2="7.2" y2="4.6" stroke="#161616" stroke-width="1.5"/><circle cx="0" cy="0" r="3.3" fill="none" stroke="#161616" stroke-width="1.0"/></g>
<g transform="translate(271.08,565.61) rotate(-247.5)"><line x1="-7.2" y1="-4.6" x2="-7.2" y2="4.6" stroke="#161616" stroke-width="1.5"/><line x1="7.2" y1="-4.6" x2="7.2" y2="4.6" stroke="#161616" stroke-width="1.5"/><circle cx="0" cy="0" r="3.3" fill="none" stroke="#161616" stroke-width="1.0"/></g>
<g transform="translate(112.41,459.71) rotate(-45.0)"><rect x="-3.5" y="-4.5" width="7" height="3.5" rx="1" fill="#161616"/><path d="M-3.5,-1 h7 l1.2,4.5 h-9.4 z" fill="none" stroke="#161616" stroke-width="1.0"/><path d="M-1.5,0.5 v2 M1.5,0.5 v2" stroke="#161616" stroke-width="0.8"/></g>
<g transform="translate(249.59,596.89) rotate(-225.0)"><rect x="-3.5" y="-4.5" width="7" height="3.5" rx="1" fill="#161616"/><path d="M-3.5,-1 h7 l1.2,4.5 h-9.4 z" fill="none" stroke="#161616" stroke-width="1.0"/><path d="M-1.5,0.5 v2 M1.5,0.5 v2" stroke="#161616" stroke-width="0.8"/></g>
<g transform="translate(181.0,528.3) rotate(-45)"><path d="M70.4,-19.2 L86.2,-20.6 M70.4,19.2 L86.2,20.6" stroke="#161616" stroke-width="1.3" fill="none"/><path d="M86.2,-20.6 A88.6,88.6 0 0 1 86.2,20.6" stroke="#161616" stroke-width="2.4" fill="none"/></g>
<g transform="translate(181.0,528.3) rotate(-225)"><path d="M70.4,-19.2 L86.2,-20.6 M70.4,19.2 L86.2,20.6" stroke="#161616" stroke-width="1.3" fill="none"/><path d="M86.2,-20.6 A88.6,88.6 0 0 1 86.2,20.6" stroke="#161616" stroke-width="2.4" fill="none"/></g>
<circle cx="809.50" cy="528.30" r="106.50" fill="none" stroke="#161616" stroke-width="1.0"/>
<circle cx="809.50" cy="528.30" r="94.50" fill="none" stroke="#161616" stroke-width="0.9"/>
<circle cx="809.50" cy="528.30" r="91.00" fill="none" stroke="#161616" stroke-width="0.9"/>
<circle cx="809.50" cy="528.30" r="87.50" fill="none" stroke="#161616" stroke-width="1.6"/>
<circle cx="809.50" cy="528.30" r="83.50" fill="none" stroke="#161616" stroke-width="1.0"/>
<circle cx="809.50" cy="528.30" r="80.50" fill="none" stroke="#444" stroke-width="0.8"/>
<line x1="896.67" y1="520.67" x2="903.64" y2="520.06" stroke="#161616" stroke-width="0.8"/>
<line x1="891.72" y1="498.37" x2="898.30" y2="495.98" stroke="#161616" stroke-width="0.8"/>
<line x1="881.18" y1="478.11" x2="886.91" y2="474.10" stroke="#161616" stroke-width="0.8"/>
<line x1="865.74" y1="461.27" x2="870.24" y2="455.91" stroke="#161616" stroke-width="0.8"/>
<line x1="846.48" y1="449.00" x2="849.44" y2="442.65" stroke="#161616" stroke-width="0.8"/>
<line x1="824.69" y1="442.13" x2="825.91" y2="435.24" stroke="#161616" stroke-width="0.8"/>
<line x1="801.87" y1="441.13" x2="801.26" y2="434.16" stroke="#161616" stroke-width="0.8"/>
<line x1="779.57" y1="446.08" x2="777.18" y2="439.50" stroke="#161616" stroke-width="0.8"/>
<line x1="759.31" y1="456.62" x2="755.30" y2="450.89" stroke="#161616" stroke-width="0.8"/>
<line x1="742.47" y1="472.06" x2="737.11" y2="467.56" stroke="#161616" stroke-width="0.8"/>
<line x1="730.20" y1="491.32" x2="723.85" y2="488.36" stroke="#161616" stroke-width="0.8"/>
<line x1="723.33" y1="513.11" x2="716.44" y2="511.89" stroke="#161616" stroke-width="0.8"/>
<line x1="722.33" y1="535.93" x2="715.36" y2="536.54" stroke="#161616" stroke-width="0.8"/>
<line x1="727.28" y1="558.23" x2="720.70" y2="560.62" stroke="#161616" stroke-width="0.8"/>
<line x1="737.82" y1="578.49" x2="732.09" y2="582.50" stroke="#161616" stroke-width="0.8"/>
<line x1="753.26" y1="595.33" x2="748.76" y2="600.69" stroke="#161616" stroke-width="0.8"/>
<line x1="772.52" y1="607.60" x2="769.56" y2="613.95" stroke="#161616" stroke-width="0.8"/>
<line x1="794.31" y1="614.47" x2="793.09" y2="621.36" stroke="#161616" stroke-width="0.8"/>
<line x1="817.13" y1="615.47" x2="817.74" y2="622.44" stroke="#161616" stroke-width="0.8"/>
<line x1="839.43" y1="610.52" x2="841.82" y2="617.10" stroke="#161616" stroke-width="0.8"/>
<line x1="859.69" y1="599.98" x2="863.70" y2="605.71" stroke="#161616" stroke-width="0.8"/>
<line x1="876.53" y1="584.54" x2="881.89" y2="589.04" stroke="#161616" stroke-width="0.8"/>
<line x1="888.80" y1="565.28" x2="895.15" y2="568.24" stroke="#161616" stroke-width="0.8"/>
<line x1="895.67" y1="543.49" x2="902.56" y2="544.71" stroke="#161616" stroke-width="0.8"/>
<circle cx="809.50" cy="528.30" r="76.00" fill="none" stroke="#161616" stroke-width="1.0"/>
<circle cx="809.50" cy="528.30" r="73.50" fill="none" stroke="#161616" stroke-width="1.6"/>
<circle cx="809.50" cy="528.30" r="71.00" fill="none" stroke="#161616" stroke-width="1.0"/>
<circle cx="809.50" cy="528.30" r="68.00" fill="none" stroke="#161616" stroke-width="1.0"/>
<circle cx="809.50" cy="528.30" r="62.50" fill="none" stroke="#161616" stroke-width="1.1"/>
<circle cx="809.50" cy="528.30" r="56.50" fill="none" stroke="#161616" stroke-width="1.0"/>
<circle cx="809.50" cy="528.30" r="53.00" fill="none" stroke="#161616" stroke-width="1.0"/>
<circle cx="809.50" cy="528.30" r="46.50" fill="none" stroke="#161616" stroke-width="1.0"/>
<circle cx="809.50" cy="528.30" r="43.50" fill="none" stroke="#161616" stroke-width="0.8"/>
<circle cx="809.50" cy="528.30" r="37.90" fill="none" stroke="#161616" stroke-width="1.1"/>
<circle cx="809.50" cy="528.30" r="36.10" fill="none" stroke="#161616" stroke-width="0.9"/>
<circle cx="809.50" cy="528.30" r="34.30" fill="none" stroke="#161616" stroke-width="0.9"/>
<circle cx="809.50" cy="528.30" r="32.50" fill="none" stroke="#161616" stroke-width="1.3"/>
<circle cx="838.63" cy="499.17" r="2.20" fill="#fff" stroke="#161616" stroke-width="0.9"/>
<circle cx="780.37" cy="499.17" r="2.20" fill="#fff" stroke="#161616" stroke-width="0.9"/>
<circle cx="780.37" cy="557.43" r="2.20" fill="#fff" stroke="#161616" stroke-width="0.9"/>
<circle cx="838.63" cy="557.43" r="2.20" fill="#fff" stroke="#161616" stroke-width="0.9"/>
<circle cx="842.73" cy="495.07" r="3.20" fill="#fff" stroke="#161616" stroke-width="1.2"/>
<circle cx="842.73" cy="495.07" r="1.40" fill="none" stroke="#161616" stroke-width="0.8"/>
<g transform="translate(809.5,528.3) rotate(0)"><rect x="37" y="-12.2" width="27.2" height="24.4" fill="#fff" stroke="none"/><rect x="37" y="-12.2" width="27.2" height="4" fill="none" stroke="#161616" stroke-width="1.0"/><rect x="37" y="8.2" width="27.2" height="4" fill="none" stroke="#161616" stroke-width="1.0"/><path d="M39,-10.2 H62 M39,10.2 H62" stroke="#777" stroke-width="0.8"/><path d="M37,-8.2 V8.2 M44,-8.2 V8.2 M50.1,-8.2 V8.2 M64.2,-8.2 V8.2" stroke="#161616" stroke-width="1.0" fill="none"/><path d="M46,-7 V7" stroke="#888" stroke-width="1.4"/><circle cx="41.1" cy="0" r="1.8" fill="none" stroke="#161616" stroke-width="0.9"/></g>
<g transform="translate(809.5,528.3) rotate(-90)"><rect x="37" y="-12.2" width="27.2" height="24.4" fill="#fff" stroke="none"/><rect x="37" y="-12.2" width="27.2" height="4" fill="none" stroke="#161616" stroke-width="1.0"/><rect x="37" y="8.2" width="27.2" height="4" fill="none" stroke="#161616" stroke-width="1.0"/><path d="M39,-10.2 H62 M39,10.2 H62" stroke="#777" stroke-width="0.8"/><path d="M37,-8.2 V8.2 M44,-8.2 V8.2 M50.1,-8.2 V8.2 M64.2,-8.2 V8.2" stroke="#161616" stroke-width="1.0" fill="none"/><path d="M46,-7 V7" stroke="#888" stroke-width="1.4"/><circle cx="41.1" cy="0" r="1.8" fill="none" stroke="#161616" stroke-width="0.9"/></g>
<g transform="translate(809.5,528.3) rotate(-180)"><rect x="37" y="-12.2" width="27.2" height="24.4" fill="#fff" stroke="none"/><rect x="37" y="-12.2" width="27.2" height="4" fill="none" stroke="#161616" stroke-width="1.0"/><rect x="37" y="8.2" width="27.2" height="4" fill="none" stroke="#161616" stroke-width="1.0"/><path d="M39,-10.2 H62 M39,10.2 H62" stroke="#777" stroke-width="0.8"/><path d="M37,-8.2 V8.2 M44,-8.2 V8.2 M50.1,-8.2 V8.2 M64.2,-8.2 V8.2" stroke="#161616" stroke-width="1.0" fill="none"/><path d="M46,-7 V7" stroke="#888" stroke-width="1.4"/><circle cx="41.1" cy="0" r="1.8" fill="none" stroke="#161616" stroke-width="0.9"/></g>
<g transform="translate(809.5,528.3) rotate(-270)"><rect x="37" y="-12.2" width="27.2" height="24.4" fill="#fff" stroke="none"/><rect x="37" y="-12.2" width="27.2" height="4" fill="none" stroke="#161616" stroke-width="1.0"/><rect x="37" y="8.2" width="27.2" height="4" fill="none" stroke="#161616" stroke-width="1.0"/><path d="M39,-10.2 H62 M39,10.2 H62" stroke="#777" stroke-width="0.8"/><path d="M37,-8.2 V8.2 M44,-8.2 V8.2 M50.1,-8.2 V8.2 M64.2,-8.2 V8.2" stroke="#161616" stroke-width="1.0" fill="none"/><path d="M46,-7 V7" stroke="#888" stroke-width="1.4"/><circle cx="41.1" cy="0" r="1.8" fill="none" stroke="#161616" stroke-width="0.9"/></g>
<g transform="translate(809.5,528.3) rotate(0)"><path d="M89.5,-12 A12,12 0 0 1 89.5,12" fill="#fff" stroke="#161616" stroke-width="1.1"/><rect x="89" y="-2.6" width="18" height="5.2" fill="#fff" stroke="#161616" stroke-width="1.2"/></g>
<g transform="translate(809.5,528.3) rotate(-90)"><path d="M89.5,-12 A12,12 0 0 1 89.5,12" fill="#fff" stroke="#161616" stroke-width="1.1"/><rect x="89" y="-2.6" width="18" height="5.2" fill="#fff" stroke="#161616" stroke-width="1.2"/></g>
<g transform="translate(809.5,528.3) rotate(-180)"><path d="M89.5,-12 A12,12 0 0 1 89.5,12" fill="#fff" stroke="#161616" stroke-width="1.1"/><rect x="89" y="-2.6" width="18" height="5.2" fill="#fff" stroke="#161616" stroke-width="1.2"/></g>
<g transform="translate(809.5,528.3) rotate(-270)"><path d="M89.5,-12 A12,12 0 0 1 89.5,12" fill="#fff" stroke="#161616" stroke-width="1.1"/><rect x="89" y="-2.6" width="18" height="5.2" fill="#fff" stroke="#161616" stroke-width="1.2"/></g>
<g transform="translate(809.5,528.3) rotate(-90)"><rect x="74" y="-12.5" width="18" height="25" fill="#fff" stroke="#161616" stroke-width="1.6"/><rect x="76" y="-10.5" width="14" height="21" fill="none" stroke="#555" stroke-width="0.9"/><path d="M74,-8 H78 M74,8 H78 M90,-10 V10" stroke="#161616" stroke-width="1.4"/><circle cx="85.3" cy="0" r="6.8" fill="#fff" stroke="#161616" stroke-width="1.7"/><circle cx="85.3" cy="0" r="5.0" fill="none" stroke="#161616" stroke-width="0.9"/></g>
<g transform="translate(809.5,528.3) rotate(-180)"><rect x="74" y="-12.5" width="18" height="25" fill="#fff" stroke="#161616" stroke-width="1.6"/><rect x="76" y="-10.5" width="14" height="21" fill="none" stroke="#555" stroke-width="0.9"/><path d="M74,-8 H78 M74,8 H78 M90,-10 V10" stroke="#161616" stroke-width="1.4"/><circle cx="85.3" cy="0" r="6.8" fill="#fff" stroke="#161616" stroke-width="1.7"/><circle cx="85.3" cy="0" r="5.0" fill="none" stroke="#161616" stroke-width="0.9"/></g>
<g transform="translate(809.5,528.3) rotate(67.5)"><rect x="-6.5" y="-103" width="13" height="9.5" fill="#fff" stroke="#161616" stroke-width="1.2"/><path d="M-4.8,-101.5 v2.2 M4.8,-101.5 v2.2 M-4.8,-97.5 v2.2 M4.8,-97.5 v2.2" stroke="#161616" stroke-width="1.4"/></g>
<g transform="translate(809.5,528.3) rotate(22.5)"><rect x="-6.5" y="-103" width="13" height="9.5" fill="#fff" stroke="#161616" stroke-width="1.2"/><path d="M-4.8,-101.5 v2.2 M4.8,-101.5 v2.2 M-4.8,-97.5 v2.2 M4.8,-97.5 v2.2" stroke="#161616" stroke-width="1.4"/></g>
<g transform="translate(809.5,528.3) rotate(-22.5)"><rect x="-6.5" y="-103" width="13" height="9.5" fill="#fff" stroke="#161616" stroke-width="1.2"/><path d="M-4.8,-101.5 v2.2 M4.8,-101.5 v2.2 M-4.8,-97.5 v2.2 M4.8,-97.5 v2.2" stroke="#161616" stroke-width="1.4"/></g>
<g transform="translate(809.5,528.3) rotate(-67.5)"><rect x="-6.5" y="-103" width="13" height="9.5" fill="#fff" stroke="#161616" stroke-width="1.2"/><path d="M-4.8,-101.5 v2.2 M4.8,-101.5 v2.2 M-4.8,-97.5 v2.2 M4.8,-97.5 v2.2" stroke="#161616" stroke-width="1.4"/></g>
<g transform="translate(809.5,528.3) rotate(-112.5)"><rect x="-6.5" y="-103" width="13" height="9.5" fill="#fff" stroke="#161616" stroke-width="1.2"/><path d="M-4.8,-101.5 v2.2 M4.8,-101.5 v2.2 M-4.8,-97.5 v2.2 M4.8,-97.5 v2.2" stroke="#161616" stroke-width="1.4"/></g>
<g transform="translate(809.5,528.3) rotate(-157.5)"><rect x="-6.5" y="-103" width="13" height="9.5" fill="#fff" stroke="#161616" stroke-width="1.2"/><path d="M-4.8,-101.5 v2.2 M4.8,-101.5 v2.2 M-4.8,-97.5 v2.2 M4.8,-97.5 v2.2" stroke="#161616" stroke-width="1.4"/></g>
<g transform="translate(809.5,528.3) rotate(-202.5)"><rect x="-6.5" y="-103" width="13" height="9.5" fill="#fff" stroke="#161616" stroke-width="1.2"/><path d="M-4.8,-101.5 v2.2 M4.8,-101.5 v2.2 M-4.8,-97.5 v2.2 M4.8,-97.5 v2.2" stroke="#161616" stroke-width="1.4"/></g>
<g transform="translate(809.5,528.3) rotate(-247.5)"><rect x="-6.5" y="-103" width="13" height="9.5" fill="#fff" stroke="#161616" stroke-width="1.2"/><path d="M-4.8,-101.5 v2.2 M4.8,-101.5 v2.2 M-4.8,-97.5 v2.2 M4.8,-97.5 v2.2" stroke="#161616" stroke-width="1.4"/></g>
<path d="M867.86,498.56 L887.91,488.35 A88.0,88.0 0 1 1 725.53,554.62 L747.00,547.89 A65.5,65.5 0 1 0 867.86,498.56 Z" fill="#fff" stroke="#161616" stroke-width="1.1" />
<path d="M876.91,584.87 A88.0,88.0 0 0 1 726.81,558.40" fill="none" stroke="#161616" stroke-width="2.0" />
<path d="M869.96,588.76 A85.5,85.5 0 0 1 730.23,560.33" fill="none" stroke="#333" stroke-width="0.8" />
<circle cx="886.94" cy="495.75" r="3.00" fill="#fff" stroke="#161616" stroke-width="1.3"/>
<line x1="884.94" y1="495.75" x2="888.94" y2="495.75" stroke="#161616" stroke-width="0.8"/>
<line x1="886.94" y1="493.75" x2="886.94" y2="497.75" stroke="#161616" stroke-width="0.8"/>
<g transform="translate(883.04,533.18) rotate(93.8)"><rect x="-10.2" y="-7.0" width="20.4" height="14" fill="#fff" stroke="#161616" stroke-width="1.0"/></g>
<g transform="translate(877.90,563.45) rotate(117.2)"><rect x="-10.7" y="-7.0" width="21.4" height="14" fill="#fff" stroke="#161616" stroke-width="1.0"/></g>
<g transform="translate(855.98,588.43) rotate(142.3)"><rect x="-14.75" y="-9.65" width="29.5" height="19.3" fill="#fff" stroke="#161616" stroke-width="1.2"/><rect x="-12.5" y="0.5" width="11" height="7.5" fill="#fff" stroke="#161616" stroke-width="0.8"/><rect x="1.5" y="0.5" width="11" height="7.5" fill="#fff" stroke="#161616" stroke-width="0.8"/><rect x="-12.5" y="-8" width="11" height="7.8" fill="#161616"/><rect x="1.5" y="-8" width="11" height="7.8" fill="#161616"/><rect x="-10" y="2.5" width="6" height="4" fill="#333"/><rect x="4" y="2.5" width="6" height="4" fill="#333"/><rect x="-10" y="-4.5" width="6" height="1.2" fill="#fff"/><rect x="4" y="-4.5" width="6" height="1.2" fill="#fff"/></g>
<circle cx="870.37" cy="605.10" r="3.30" fill="#fff" stroke="#161616" stroke-width="1.5"/>
<line x1="868.37" y1="605.10" x2="872.37" y2="605.10" stroke="#161616" stroke-width="0.9"/>
<circle cx="878.55" cy="597.84" r="3.30" fill="#fff" stroke="#161616" stroke-width="1.5"/>
<line x1="876.55" y1="597.84" x2="880.55" y2="597.84" stroke="#161616" stroke-width="0.9"/>
<circle cx="886.41" cy="589.04" r="3.30" fill="#fff" stroke="#161616" stroke-width="1.5"/>
<line x1="884.41" y1="589.04" x2="888.41" y2="589.04" stroke="#161616" stroke-width="0.9"/>
<circle cx="840.89" cy="606.00" r="3.00" fill="#fff" stroke="#161616" stroke-width="1.3"/>
<line x1="838.89" y1="606.00" x2="842.89" y2="606.00" stroke="#161616" stroke-width="0.8"/>
<line x1="840.89" y1="604.00" x2="840.89" y2="608.00" stroke="#161616" stroke-width="0.8"/>
<g transform="translate(818.03,606.84) rotate(173.8)"><rect x="-17.2" y="-7.6" width="34.4" height="15.2" fill="#fff" stroke="#161616" stroke-width="1.0"/></g>
<g transform="translate(782.80,603.71) rotate(199.5)"><rect x="-11.5" y="-7.6" width="23" height="15.2" fill="#fff" stroke="#161616" stroke-width="1.0"/></g>
<g transform="translate(753.55,580.47) rotate(227.0)"><rect x="-23.25" y="-7.5" width="46.5" height="15" fill="#fff" stroke="#161616" stroke-width="1.0"/></g>
<circle cx="731.15" cy="559.95" r="3.00" fill="#fff" stroke="#161616" stroke-width="1.3"/>
<line x1="729.15" y1="559.95" x2="733.15" y2="559.95" stroke="#161616" stroke-width="0.8"/>
<line x1="731.15" y1="557.95" x2="731.15" y2="561.95" stroke="#161616" stroke-width="0.8"/>
<path d="M770.84,459.98 L765.48,448.88 A90.8,90.8 0 0 0 730.86,482.90 L740.84,490.24 A78.5,78.5 0 0 1 770.84,459.98 Z" fill="#fff" stroke="#161616" stroke-width="1.3" />
<path d="M765.48,448.88 A90.8,90.8 0 0 0 730.86,482.90" fill="none" stroke="#161616" stroke-width="2.0" />
<line x1="760.10" y1="467.29" x2="752.36" y2="457.74" stroke="#161616" stroke-width="1.1"/>
<line x1="750.26" y1="476.80" x2="740.97" y2="468.73" stroke="#161616" stroke-width="1.1"/>
<circle cx="761.01" cy="460.32" r="3.20" fill="#fff" stroke="#161616" stroke-width="1.3"/>
<line x1="759.01" y1="460.32" x2="763.01" y2="460.32" stroke="#161616" stroke-width="0.8"/>
<line x1="761.01" y1="458.32" x2="761.01" y2="462.32" stroke="#161616" stroke-width="0.8"/>
<circle cx="741.10" cy="480.41" r="3.20" fill="#fff" stroke="#161616" stroke-width="1.3"/>
<line x1="739.10" y1="480.41" x2="743.10" y2="480.41" stroke="#161616" stroke-width="0.8"/>
<line x1="741.10" y1="478.41" x2="741.10" y2="482.41" stroke="#161616" stroke-width="0.8"/>
<circle cx="776.95" cy="450.86" r="3.40" fill="#fff" stroke="#161616" stroke-width="1.2"/>
<circle cx="776.95" cy="450.86" r="1.60" fill="none" stroke="#161616" stroke-width="0.8"/>
<g transform="translate(809.5,528.3) rotate(-135)"><rect x="50" y="-5" width="9" height="10" fill="#fff" stroke="#161616" stroke-width="1.1"/><circle cx="54.5" cy="0" r="1.6" fill="none" stroke="#161616" stroke-width="0.8"/><path d="M60,-2 L72,-2 M60,2 L72,2" stroke="#161616" stroke-width="0.8"/></g>
<path d="M772.0,622.3 l2.5,4" fill="none" stroke="#161616" stroke-width="2.4" />
</svg>
</body></html>
